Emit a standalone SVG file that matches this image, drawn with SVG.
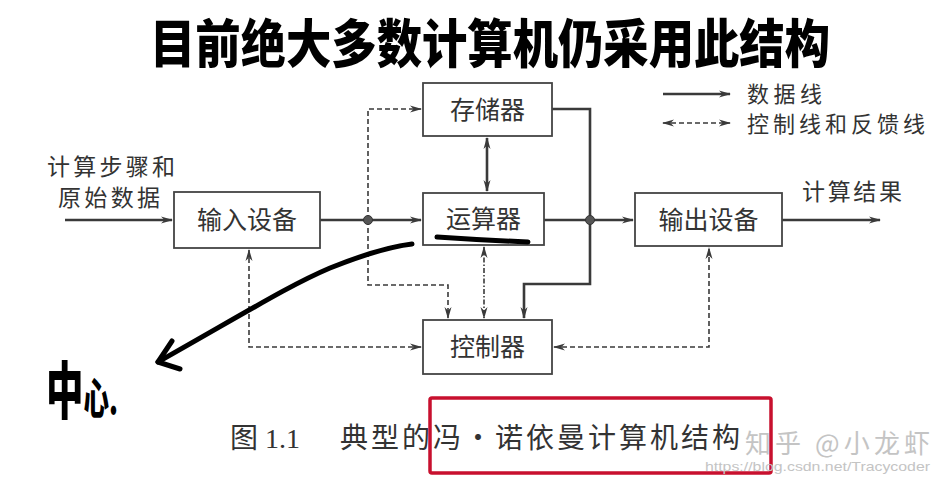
<svg xmlns="http://www.w3.org/2000/svg" width="939" height="481" viewBox="0 0 939 481">
<defs>
<marker id="ah" viewBox="0 0 12 8" refX="11" refY="4" markerWidth="12" markerHeight="8" markerUnits="userSpaceOnUse" orient="auto-start-reverse">
<path d="M0,0.5 L12,4 L0,7.5 L3.5,4 z" fill="#3a3a3a"/>
</marker>
<style>
.box{fill:#fff;stroke:#444;stroke-width:1.8}
.lbl{font-family:"Noto Sans CJK SC","Noto Sans",sans-serif;font-size:25px;fill:#333;text-anchor:middle}
.txt{font-family:"Noto Sans CJK SC","Noto Sans",sans-serif;font-size:23px;fill:#333}
.leg{font-family:"Noto Sans CJK SC","Noto Sans",sans-serif;font-size:22px;fill:#333}
.solid{fill:none;stroke:#3a3a3a;stroke-width:2.6}
.dash{fill:none;stroke:#3a3a3a;stroke-width:1.6;stroke-dasharray:5 3}
.dashdot{fill:none;stroke:#3a3a3a;stroke-width:1.6;stroke-dasharray:5 2 1.5 2}
.dot{fill:#555;stroke:#333;stroke-width:1}
.hand{fill:none;stroke:#000;stroke-width:5;stroke-linecap:round;stroke-linejoin:round}
.handtxt{font-family:"Noto Sans CJK SC",sans-serif;font-weight:900;fill:#000}
</style>
</defs>
<rect width="939" height="481" fill="#fff"/>

<g id="title">
<text class="handtxt" transform="translate(150,63) scale(1,1.18)" x="0" y="0" font-size="44" textLength="680" lengthAdjust="spacingAndGlyphs">目前绝大多数计算机仍采用此结构</text>
</g>

<g id="connectors">
<path class="solid" d="M65,220 L172,220" marker-end="url(#ah)"/>
<path class="solid" d="M320,220 L421,220" marker-end="url(#ah)"/>
<path class="dash" d="M368,220 L368,109 L421,109" marker-end="url(#ah)"/>
<path class="dash" d="M368,220 L368,285 L448,285 L448,318" marker-end="url(#ah)"/>
<path class="solid" d="M487,138 L487,191" marker-start="url(#ah)" marker-end="url(#ah)"/>
<path class="dashdot" d="M484,247 L484,318" marker-start="url(#ah)" marker-end="url(#ah)"/>
<path class="solid" d="M544,220 L633,220" marker-end="url(#ah)"/>
<path class="solid" d="M552,109 L590,109 L590,284 L524,284 L524,318" marker-end="url(#ah)"/>
<path class="solid" d="M782,220 L880,220" marker-end="url(#ah)"/>
<path class="dash" d="M421,347 L249,347 L249,250" marker-start="url(#ah)" marker-end="url(#ah)"/>
<path class="dash" d="M554,347 L709,347 L709,248" marker-start="url(#ah)" marker-end="url(#ah)"/>
<circle class="dot" cx="368" cy="220" r="4.5"/>
<circle class="dot" cx="590" cy="220" r="4.5"/>
</g>

<g id="legend">
<path class="solid" d="M663,94 L730,94" marker-end="url(#ah)"/>
<path class="dash" d="M663,123 L730,123" marker-start="url(#ah)" marker-end="url(#ah)"/>
<text class="leg" x="747" y="102" textLength="75">数据线</text>
<text class="leg" x="747" y="132" textLength="178">控制线和反馈线</text>
</g>

<g id="input-label">
<text class="txt" x="47" y="175" textLength="128">计算步骤和</text>
<text class="txt" x="58" y="206" textLength="102">原始数据</text>
</g>
<g id="output-label">
<text class="txt" x="802" y="200" textLength="100">计算结果</text>
</g>

<g id="memory">
<rect class="box" x="423" y="83" width="129" height="53"/>
<text class="lbl" x="487.5" y="119">存储器</text>
</g>
<g id="alu">
<rect class="box" x="423" y="193" width="121" height="52"/>
<text class="lbl" x="483.5" y="228">运算器</text>
</g>
<g id="input">
<rect class="box" x="174" y="192" width="146" height="56"/>
<text class="lbl" x="247" y="229">输入设备</text>
</g>
<g id="output">
<rect class="box" x="635" y="193" width="147" height="53"/>
<text class="lbl" x="708.5" y="229">输出设备</text>
</g>
<g id="control">
<rect class="box" x="423" y="320" width="129" height="54"/>
<text class="lbl" x="487.5" y="356">控制器</text>
</g>

<g id="annotation">
<path class="hand" d="M437,237 Q480,240 528,242"/>
<path class="hand" d="M412,244 C395,246 370,252 330,268 C290,285 250,310 158,362"/>
<path class="hand" d="M172,341 L158,362 L180,369"/>
<text class="handtxt" transform="translate(46,414) scale(0.75,1.25)" x="0" y="0" font-size="50">中<tspan font-size="34">心.</tspan></text>
</g>

<g id="caption">
<text x="230" y="448" font-family="'Liberation Serif','Noto Sans CJK SC',serif" font-size="28" fill="#333">图 1.1</text>
<text x="340" y="448" font-family="'Noto Sans CJK SC',serif" font-size="28" fill="#333" textLength="400" lengthAdjust="spacing">典型的冯·诺依曼计算机结构</text>
<rect x="430" y="398" width="341" height="75" fill="none" stroke="#c8102e" stroke-width="3.5" rx="2"/>
<text x="745" y="453" font-family="'Noto Sans CJK SC',sans-serif" font-size="26" fill="#c4c4c4" textLength="185">知乎 @小龙虾</text>
<text x="705" y="471" font-family="'Liberation Sans',sans-serif" font-size="13" fill="#c4c4c4" textLength="225" lengthAdjust="spacingAndGlyphs">https://blog.csdn.net/Tracycoder</text>
</g>
</svg>
